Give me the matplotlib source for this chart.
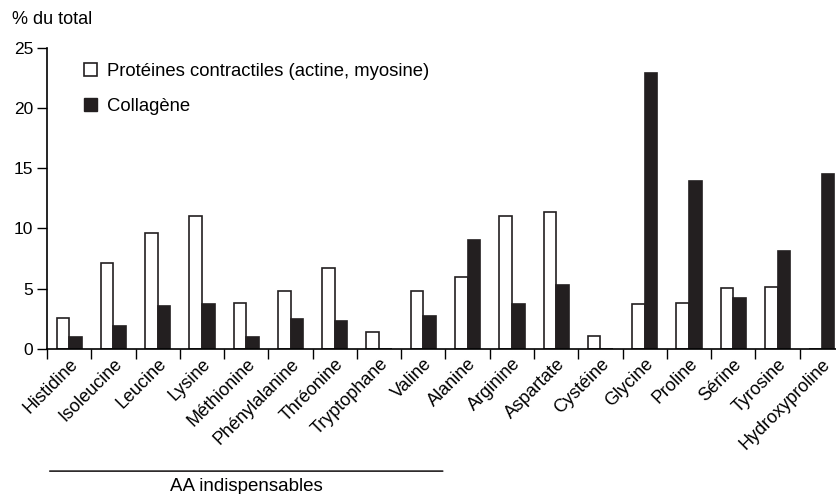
import matplotlib.pyplot as plt
from matplotlib.patches import Patch
from matplotlib.transforms import ScaledTranslation
import numpy as np

plt.rcParams['font.family'] = ['Liberation Sans', 'DejaVu Sans']

acides = ['Histidine', 'Isoleucine', 'Leucine', 'Lysine', 'Méthionine',
          'Phénylalanine', 'Thréonine', 'Tryptophane', 'Valine', 'Alanine',
          'Arginine', 'Aspartate', 'Cystéine', 'Glycine', 'Proline', 'Sérine',
          'Tyrosine', 'Hydroxyproline']
contractiles = [2.55, 7.1, 9.65, 11.05, 3.8, 4.85, 6.75, 1.4, 4.85, 6.0,
                11.05, 11.4, 1.1, 3.7, 3.85, 5.05, 5.1, 0]
collagene = [1.0, 1.9, 3.55, 3.7, 1.0, 2.5, 2.3, 0, 2.75, 9.05,
             3.7, 5.3, 0, 22.85, 13.95, 4.25, 8.15, 14.5]
n_indisp = 9

fig = plt.figure(figsize=(8.37, 4.94), dpi=100)
ax = fig.add_axes([47 / 837, 145 / 494, 797 / 837, 301.5 / 494])

x = np.arange(len(acides))
w = 0.285
ax.bar(x - w / 2, contractiles, w, color='white', edgecolor='#231f20', linewidth=1.2)
ax.bar(x + w / 2, collagene, w, color='#231f20', edgecolor='#231f20', linewidth=1.2)

ax.set_xlim(-0.5, len(acides) - 0.5)
ax.set_ylim(0, 25)
ax.set_yticks([0, 5, 10, 15, 20, 25])
ax.tick_params(axis='y', length=7, width=1, labelsize=12.5, pad=3)

ax.set_xticks(x)
ax.set_xticklabels(acides, rotation=45, ha='right', va='center',
                   rotation_mode='anchor', fontsize=13)
ax.tick_params(axis='x', which='major', length=0, pad=9)
# petit decalage vers la droite des etiquettes
decal = ScaledTranslation(6 / 100, 0, fig.dpi_scale_trans)
for lab in ax.get_xticklabels():
    lab.set_transform(lab.get_transform() + decal)
ax.set_xticks(np.arange(-0.5, len(acides)), minor=True)
ax.tick_params(axis='x', which='minor', length=7, width=1)

for s in ['top', 'right']:
    ax.spines[s].set_visible(False)
for s in ['left', 'bottom']:
    ax.spines[s].set_linewidth(1.2)

fig.text(12 / 837, 1 - 20 / 494, '% du total', fontsize=13, va='center')

handles = [Patch(facecolor='white', edgecolor='#231f20', linewidth=1.2,
                 label='Protéines contractiles (actine, myosine)'),
           Patch(facecolor='#231f20', edgecolor='#231f20',
                 label='Collagène')]
fig.legend(handles=handles, loc='upper left', bbox_to_anchor=(84 / 837, 1 - 63 / 494),
           frameon=False, fontsize=13.3, handlelength=0.7, handleheight=0.7,
           handletextpad=0.55, labelspacing=0.97, borderpad=0, borderaxespad=0)

# trait "AA indispensables"
ax.annotate('', xy=(-0.5, -0.405), xytext=(n_indisp - 0.5, -0.405),
            xycoords=('data', 'axes fraction'), textcoords=('data', 'axes fraction'),
            arrowprops=dict(arrowstyle='-', color='#231f20', lw=1.2))
ax.text((n_indisp - 1) / 2, -0.455, 'AA indispensables', ha='center', va='center',
        transform=ax.get_xaxis_transform(), fontsize=13.5)

fig.savefig('out.png', dpi=100)
